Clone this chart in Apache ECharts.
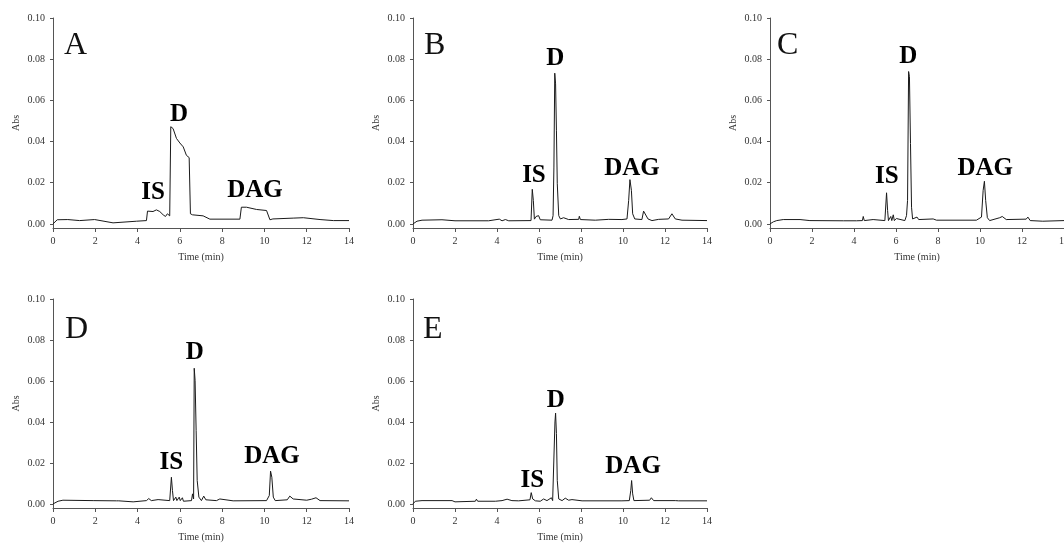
<!DOCTYPE html>
<html>
<head>
<meta charset="utf-8">
<script src="https://cdn.jsdelivr.net/npm/echarts@6/dist/echarts.min.js"></script>
<style>
  html, body { margin: 0; padding: 0; background: #fff; }
  #chart { width: 1064px; height: 546px; }
</style>
</head>
<body>
<div id="chart"></div>
<script>
// chromatogram traces, [time (min), Abs]
const traceA = [[0,0.0000],[0.2,0.0020],[0.7,0.0021],[1.26,0.0016],[1.97,0.0021],[2.84,0.0005],[3.95,0.0013],[4.42,0.0016],[4.47,0.0062],[4.73,0.0060],[4.89,0.0068],[5.05,0.0060],[5.21,0.0044],[5.32,0.0036],[5.41,0.0049],[5.52,0.0039],[5.57,0.0472],[5.68,0.0463],[5.84,0.0415],[6.0,0.0393],[6.16,0.0374],[6.31,0.0333],[6.39,0.0341],[6.44,0.0322],[6.5,0.0049],[6.6,0.0044],[7.1,0.0039],[7.42,0.0023],[8.84,0.0023],[8.91,0.0081],[9.15,0.0081],[9.63,0.0070],[10.1,0.0065],[10.26,0.0020],[10.4,0.0024],[11.36,0.0028],[11.84,0.0030],[12.63,0.0021],[13.26,0.0016],[14,0.0016]];
const traceB = [[0,0.0000],[0.19,0.0013],[0.43,0.0018],[1.38,0.0020],[2.0,0.0015],[3.6,0.0015],[4.11,0.0023],[4.24,0.0015],[4.4,0.0021],[4.56,0.0015],[5.62,0.0016],[5.68,0.0168],[5.73,0.0114],[5.78,0.0023],[5.86,0.0036],[5.92,0.0030],[5.98,0.0040],[6.06,0.0020],[6.62,0.0018],[6.67,0.0040],[6.71,0.0276],[6.75,0.0732],[6.79,0.0680],[6.83,0.0455],[6.87,0.0195],[6.94,0.0040],[7.02,0.0024],[7.17,0.0030],[7.41,0.0021],[7.89,0.0022],[7.92,0.0037],[7.97,0.0021],[8.68,0.0018],[9.32,0.0022],[9.95,0.0021],[10.19,0.0024],[10.27,0.0114],[10.33,0.0215],[10.4,0.0163],[10.46,0.0049],[10.56,0.0024],[10.9,0.0021],[10.98,0.0062],[11.06,0.0068],[11.19,0.0024],[11.38,0.0016],[11.7,0.0022],[12.17,0.0024],[12.33,0.0049],[12.41,0.0054],[12.49,0.0024],[12.81,0.0018],[14,0.0016]];
const traceC = [[0,0.0000],[0.16,0.0010],[0.32,0.0016],[0.63,0.0021],[1.43,0.0021],[1.9,0.0016],[3.49,0.0015],[4.12,0.0015],[4.4,0.0016],[4.44,0.0036],[4.49,0.0016],[4.91,0.0021],[4.96,0.0015],[5.47,0.0016],[5.55,0.0151],[5.6,0.0065],[5.64,0.0016],[5.75,0.0036],[5.8,0.0016],[5.87,0.0044],[5.92,0.0016],[6.02,0.0026],[6.42,0.0016],[6.5,0.0040],[6.55,0.0114],[6.6,0.0740],[6.64,0.0715],[6.69,0.0390],[6.74,0.0081],[6.79,0.0024],[7.0,0.0033],[7.08,0.0021],[7.77,0.0024],[7.93,0.0018],[9.83,0.0018],[10.07,0.0033],[10.15,0.0163],[10.21,0.0207],[10.27,0.0114],[10.35,0.0030],[10.46,0.0016],[10.94,0.0030],[11.06,0.0036],[11.25,0.0021],[12.2,0.0023],[12.28,0.0033],[12.39,0.0016],[12.99,0.0013],[14,0.0016]];
const traceD = [[0,0.0000],[0.24,0.0013],[0.47,0.0018],[1.9,0.0016],[3.0,0.0015],[3.05,0.0023],[3.11,0.0015],[3.79,0.0010],[4.42,0.0016],[4.53,0.0026],[4.65,0.0016],[4.97,0.0021],[5.52,0.0016],[5.6,0.0130],[5.65,0.0065],[5.7,0.0016],[5.81,0.0033],[5.86,0.0016],[5.97,0.0033],[6.02,0.0016],[6.12,0.0030],[6.17,0.0013],[6.55,0.0016],[6.6,0.0049],[6.65,0.0024],[6.68,0.0662],[6.72,0.0603],[6.77,0.0359],[6.82,0.0114],[6.9,0.0033],[7.02,0.0016],[7.13,0.0038],[7.23,0.0020],[7.73,0.0016],[7.89,0.0024],[8.52,0.0015],[10.1,0.0016],[10.23,0.0041],[10.29,0.0160],[10.35,0.0130],[10.42,0.0033],[10.51,0.0016],[11.08,0.0020],[11.2,0.0038],[11.36,0.0024],[12.0,0.0018],[12.23,0.0023],[12.44,0.0030],[12.63,0.0016],[14,0.0015]];
const traceE = [[0,0.0000],[0.11,0.0013],[0.43,0.0016],[1.86,0.0016],[2.0,0.0010],[2.97,0.0013],[3.02,0.0023],[3.08,0.0013],[3.92,0.0013],[4.24,0.0016],[4.48,0.0023],[4.56,0.0028],[4.71,0.0016],[5.03,0.0015],[5.57,0.0020],[5.63,0.0055],[5.7,0.0024],[5.83,0.0015],[5.9,0.0021],[6.06,0.0013],[6.22,0.0024],[6.38,0.0016],[6.59,0.0030],[6.65,0.0016],[6.71,0.0024],[6.76,0.0400],[6.79,0.0443],[6.83,0.0343],[6.87,0.0114],[6.94,0.0024],[7.1,0.0016],[7.25,0.0028],[7.41,0.0018],[7.57,0.0021],[8.05,0.0015],[9.95,0.0015],[10.3,0.0016],[10.37,0.0065],[10.41,0.0114],[10.46,0.0049],[10.52,0.0016],[11.27,0.0018],[11.35,0.0030],[11.46,0.0016],[12.49,0.0016],[12.57,0.0021],[12.65,0.0015],[14,0.0015]];

// peak labels, [time, Abs, text]
const peaksA = [[4.73,0.0150,'IS'],[5.96,0.0530,'D'],[9.55,0.0162,'DAG']];
const peaksB = [[5.76,0.0235,'IS'],[6.77,0.0804,'D'],[10.43,0.0271,'DAG']];
const peaksC = [[5.56,0.0231,'IS'],[6.59,0.0812,'D'],[10.25,0.0269,'DAG']];
const peaksD = [[5.60,0.0201,'IS'],[6.71,0.0740,'D'],[10.36,0.0230,'DAG']];
const peaksE = [[5.68,0.0114,'IS'],[6.80,0.0506,'D'],[10.48,0.0181,'DAG']];

const panelNames = ['A', 'B', 'C', 'D', 'E'];
const yTicks = [0, 0.02, 0.04, 0.06, 0.08, 0.10];
const xTicks = [0, 14, 2]; // min, max, step

const traces = [traceA, traceB, traceC, traceD, traceE];
const peaks = [peaksA, peaksB, peaksC, peaksD, peaksE];

// panel boxes (px)
const grids = [
  { left: 53,  top: 18,  width: 296, height: 210 },
  { left: 413, top: 18,  width: 294, height: 210 },
  { left: 770, top: 18,  width: 294, height: 210 },
  { left: 53,  top: 299, width: 296, height: 209 },
  { left: 413, top: 299, width: 294, height: 209 }
];
const letterPos = [[64, 46], [424, 46], [777, 46], [65, 330], [423, 330]];

const serif = '"Liberation Serif", "Times New Roman", serif';
const axisColor = '#555';
const textColor = '#333';

const chart = echarts.init(document.getElementById('chart'));

const option = {
  backgroundColor: '#fff',
  animation: false,
  grid: grids.map(g => ({ ...g, outerBoundsMode: 'none' })),
  xAxis: grids.map((g, i) => ({
    gridIndex: i,
    type: 'value',
    min: xTicks[0],
    max: xTicks[1],
    interval: xTicks[2],
    name: 'Time (min)',
    nameLocation: 'middle',
    nameGap: 24,
    nameTextStyle: { fontFamily: serif, fontSize: 10, color: textColor },
    axisLine: { onZero: false, lineStyle: { color: axisColor, width: 1 } },
    axisTick: { length: 4, lineStyle: { color: axisColor } },
    axisLabel: { fontFamily: serif, fontSize: 10, color: textColor, margin: 8 },
    splitLine: { show: false }
  })),
  yAxis: grids.map((g, i) => ({
    gridIndex: i,
    type: 'value',
    min: -0.002,
    max: 0.1,
    name: 'Abs',
    nameLocation: 'middle',
    nameRotate: 90,
    nameGap: 32,
    nameTextStyle: { fontFamily: serif, fontSize: 10, color: textColor },
    axisLine: { show: true, lineStyle: { color: axisColor, width: 1 } },
    axisTick: { show: true, length: 3, customValues: yTicks, lineStyle: { color: axisColor } },
    axisLabel: {
      fontFamily: serif, fontSize: 10, color: textColor, margin: 8,
      customValues: yTicks,
      formatter: v => v.toFixed(2)
    },
    splitLine: { show: false }
  })),
  series: [
    ...traces.map((t, i) => ({
      type: 'line',
      xAxisIndex: i,
      yAxisIndex: i,
      data: t,
      showSymbol: false,
      symbol: 'none',
      lineStyle: { color: '#1a1a1a', width: 1 },
      silent: true
    })),
    ...peaks.map((p, i) => ({
      type: 'scatter',
      xAxisIndex: i,
      yAxisIndex: i,
      data: p.map(d => ({ value: [d[0], d[1]], name: d[2] })),
      symbolSize: 1,
      itemStyle: { color: 'transparent', opacity: 1 },
      silent: true,
      label: {
        show: true,
        position: 'inside',
        formatter: '{b}',
        fontFamily: serif,
        fontWeight: 'bold',
        fontSize: 25,
        color: '#000',
        opacity: 1,
        textBorderWidth: 0
      }
    }))
  ],
  graphic: panelNames.map((n, i) => ({
    type: 'text',
    x: letterPos[i][0],
    y: letterPos[i][1],
    silent: true,
    style: {
      text: n,
      font: '32px ' + serif,
      fill: '#111',
      textAlign: 'left',
      textVerticalAlign: 'middle'
    }
  }))
};

chart.setOption(option);
</script>
</body>
</html>
